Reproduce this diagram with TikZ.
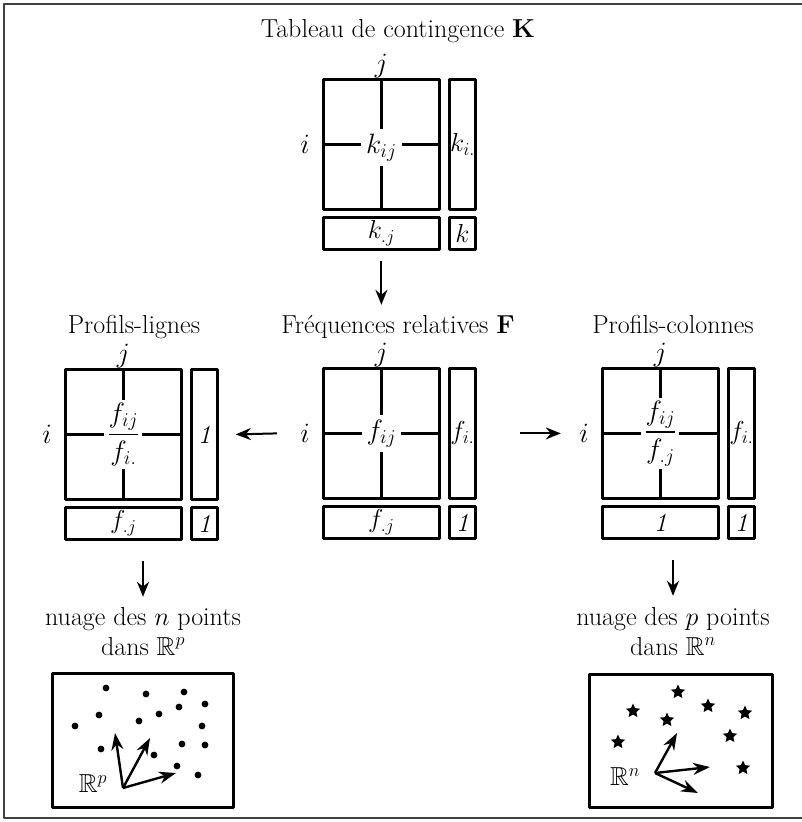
\RequirePackage{fix-cm}
\documentclass[tikz,border=0pt]{standalone}
\usepackage{amsmath,amssymb}
\usetikzlibrary{arrows.meta,shapes.geometric}

\begin{document}
\begin{tikzpicture}[x=1pt, y=-1pt, >={Stealth[length=15pt,width=12pt]}, line join=round,
  font=\fontsize{26}{30}\selectfont,
  tabbox/.style={draw, line width=2.8pt, inner sep=0pt, anchor=north west},
  crossline/.style={line width=2.2pt},
  lbl/.style={fill=white, inner sep=5pt, font=\fontsize{28}{32}\selectfont},
  idx/.style={font=\fontsize{28}{32}\selectfont},
  ttl/.style={anchor=base, inner sep=0pt},
  arr/.style={->, line width=2pt},
  axarr/.style={-{Stealth[length=17pt,width=12pt]}, line width=2.4pt},
  starmark/.style={star, star points=5, star point ratio=2.1, fill, inner sep=0pt, minimum size=15pt}]
	% Cadre de la page
	\useasboundingbox (0,0) rectangle (802,822);
	\draw[line width=1.5pt, black!75] (802,4) -- (4,4) -- (4,818) -- (802,818);
	
	% Les quatre tableaux (carre, marge ligne, marge colonne, total)
	\foreach \p/\x/\y in {K/322/78, L/64/368, F/322/367, C/601/367}{
		\node[tabbox, minimum width=116pt, minimum height=130pt] (\p-sq) at (\x,\y) {};
		\node[tabbox, minimum width=26pt, minimum height=130pt] (\p-side) at (\x+126,\y) {};
		\node[tabbox, minimum width=116pt, minimum height=32pt] (\p-bot) at (\x,\y+138) {};
		\node[tabbox, minimum width=26pt, minimum height=32pt] (\p-cor) at (\x+126,\y+138) {};
		\draw[crossline] (\p-sq.north) -- (\p-sq.south);
		\draw[crossline] (\p-sq.west) -- (\p-sq.east);
		\node[idx] (\p-j) at ([yshift=12pt]\p-sq.north) {$j$};
		\node[idx] (\p-i) at ([xshift=-17pt]\p-sq.west) {$i$};
	}
	
	% Titres
	\node[ttl] (Ktitle) at (398,37) {Tableau de contingence \textbf{K}};
	\node[ttl] (Ftitle) at (398,333) {Fréquences relatives \textbf{F}};
	\node[ttl] (Ltitle) at (134,333) {Profils-lignes};
	\node[ttl] (Ctitle) at (673,333) {Profils-colonnes};
	
	% Contenu du tableau K
	\node[lbl] at ([yshift=-3pt]K-sq.center) {$k_{ij}$};
	\node at (K-side.center) {$k_{i.}$};
	\node at (K-bot.center) {$k_{.j}$};
	\node at (K-cor.center) {$k$};
	
	% Contenu du tableau F
	\node[lbl] at (F-sq.center) {$f_{ij}$};
	\node at (F-side.center) {$f_{i.}$};
	\node at (F-bot.center) {$f_{.j}$};
	\node at (F-cor.center) {\textit{1}};
	
	% Profils-lignes
	\node[lbl, inner sep=3pt] at (L-sq.center) {$\dfrac{f_{ij}}{f_{i.}}$};
	\node at (L-side.center) {\textit{1}};
	\node at (L-bot.center) {$f_{.j}$};
	\node at (L-cor.center) {\textit{1}};
	
	% Profils-colonnes
	\node[lbl, inner sep=3pt] at (C-sq.center) {$\dfrac{f_{ij}}{f_{.j}}$};
	\node at (C-side.center) {$f_{i.}$};
	\node at (C-bot.center) {\textit{1}};
	\node at (C-cor.center) {\textit{1}};
	
	% Nuages
	\node[align=center, anchor=north, inner sep=0pt] (Lnuage) at (143,607) {nuage des $n$ points\\dans $\mathbb{R}^p$};
	\node[align=center, anchor=north, inner sep=0pt] (Cnuage) at (673,607) {nuage des $p$ points\\dans $\mathbb{R}^n$};
	\node[tabbox, minimum width=181pt, minimum height=134pt] (Lcloud) at (51,672) {};
	\node[tabbox, minimum width=183pt, minimum height=133pt] (Ccloud) at (588,673) {};
	
	% Fleches
	\draw[arr] ([yshift=-10pt]K-bot.south) -- ++(0,44);
	\draw[arr] ([xshift=-20pt]F-i.west) -- ([xshift=17pt]L-side.east);
	\draw[arr] ([xshift=43pt]F-side.east) -- ([xshift=-15pt]C-i.west);
	\coordinate (Larr) at (L-bot.south -| Lnuage.north);
	\coordinate (Carr) at (C-bot.south -| Cnuage.north);
	\draw[arr] ([yshift=-20pt]Larr) -- ++(0,36);
	\draw[arr] ([yshift=-20pt]Carr) -- ++(0,36);
	
	% Points du nuage dans R^p
	\foreach \x/\y in {106/688, 146/694, 184/692, 179/707, 205/704, 99/715, 159/714, 139/721,
		75/726, 202/726, 101/749, 182/744, 205/745, 154/755, 177/766, 198/775}
		\fill (\x,\y) circle (3.4pt);
	\coordinate (Lo) at (123,788);
	\draw[axarr] (Lo) -- (115,733);
	\draw[axarr] (Lo) -- (150,738);
	\draw[axarr] (Lo) -- (176,773);
	\node (LR) at (93,784) {$\mathbb{R}^p$};
	
	% Etoiles du nuage dans R^n
	\foreach \x/\y in {678/692, 633/711, 708/706, 745/713, 667/720, 730/736, 618/742, 743/768}
		\node[starmark] at (\x,\y) {};
	\coordinate (Co) at (655,773);
	\draw[axarr] (Co) -- (677,733);
	\draw[axarr] (Co) -- (710,767);
	\draw[axarr] (Co) -- (698,793);
	\node (CR) at (625,777) {$\mathbb{R}^n$};
\end{tikzpicture}
\end{document}
